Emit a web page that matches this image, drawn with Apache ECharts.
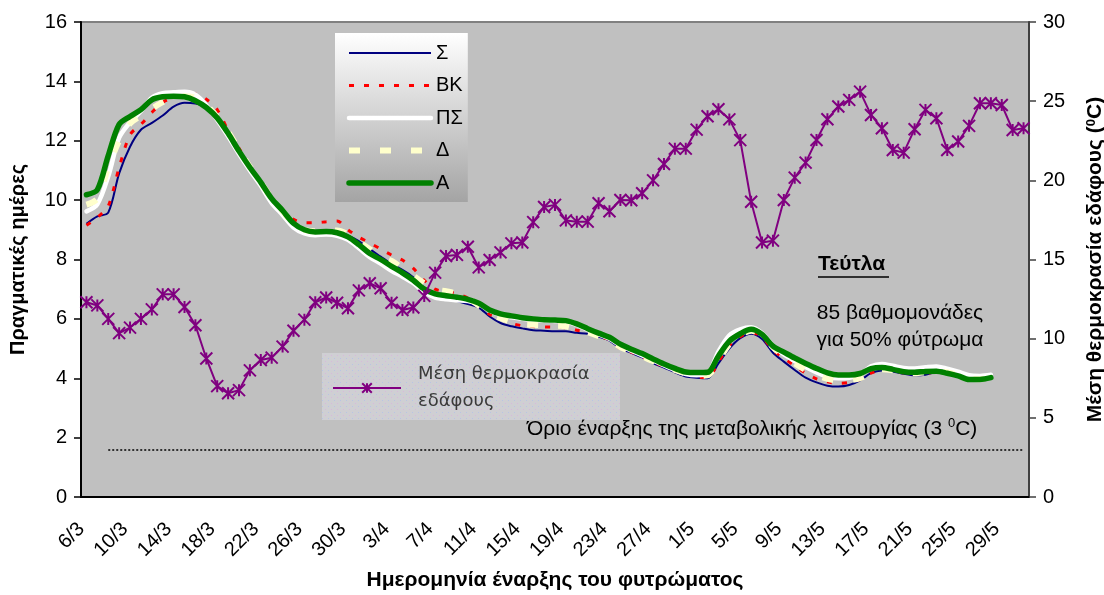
<!DOCTYPE html>
<html>
<head>
<meta charset="utf-8">
<script src="https://cdn.jsdelivr.net/npm/echarts@6/dist/echarts.min.js"></script>
<style>
html, body { margin: 0; padding: 0; background: #ffffff; }
#chart { width: 1104px; height: 595px; }
</style>
</head>
<body>
<div id="chart"></div>
<script>
// Sowing dates (6 March – 31 May)
const dates = [
  '6/3','7/3','8/3','9/3','10/3','11/3','12/3','13/3','14/3','15/3','16/3','17/3','18/3','19/3',
  '20/3','21/3','22/3','23/3','24/3','25/3','26/3','27/3','28/3','29/3','30/3','31/3',
  '1/4','2/4','3/4','4/4','5/4','6/4','7/4','8/4','9/4','10/4','11/4','12/4','13/4','14/4','15/4',
  '16/4','17/4','18/4','19/4','20/4','21/4','22/4','23/4','24/4','25/4','26/4','27/4','28/4','29/4','30/4',
  '1/5','2/5','3/5','4/5','5/5','6/5','7/5','8/5','9/5','10/5','11/5','12/5','13/5','14/5','15/5',
  '16/5','17/5','18/5','19/5','20/5','21/5','22/5','23/5','24/5','25/5','26/5','27/5','28/5','29/5','30/5','31/5'
];

// Actual days to 50% emergence, one array per model
const daysS = [
  9.2, 9.45, 9.58, 10.9, 11.8, 12.37, 12.6, 12.85, 13.15, 13.28,
  13.25, 13.12, 12.75, 12.25, 11.65, 11.1, 10.55, 10.0, 9.58, 9.15,
  8.95, 8.9, 8.92, 8.88, 8.8, 8.62, 8.35, 8.1, 7.85, 7.65,
  7.4, 7.05, 6.85, 6.7, 6.6, 6.5, 6.38, 6.08, 5.86, 5.75,
  5.68, 5.62, 5.6, 5.58, 5.58, 5.53, 5.5, 5.4, 5.27, 5.0,
  4.86, 4.7, 4.5, 4.36, 4.2, 4.06, 4.02, 4.0, 4.5, 5.0,
  5.35, 5.5, 5.32, 4.86, 4.56, 4.28, 4.02, 3.86, 3.75, 3.72,
  3.77, 3.93, 4.17, 4.26, 4.23, 4.15, 4.1, 4.12, 4.2, 4.15,
  4.06, 3.95, 3.95, 4.0
];
const daysBK = [
  9.15, 9.42, 9.8, 11.1, 12.2, 12.55, 12.95, 13.3, 13.45, 13.52,
  13.58, 13.4, 13.05, 12.35, 11.75, 11.15, 10.6, 10.05, 9.65, 9.35,
  9.24, 9.24, 9.27, 9.3, 9.0, 8.75, 8.56, 8.35, 8.15, 7.98,
  7.7, 7.3, 7.0, 6.92, 6.85, 6.7, 6.45, 6.15, 6.0, 5.85,
  5.77, 5.74, 5.73, 5.72, 5.7, 5.62, 5.55, 5.4, 5.3, 5.0,
  4.88, 4.72, 4.55, 4.4, 4.28, 4.15, 4.05, 4.02, 4.55, 5.1,
  5.4, 5.55, 5.38, 4.95, 4.68, 4.42, 4.17, 3.98, 3.88, 3.83,
  3.86, 3.96, 4.17, 4.28, 4.25, 4.18, 4.14, 4.16, 4.22, 4.17,
  4.07, 3.96, 3.96, 4.01
];
const daysPS = [
  9.62, 9.86, 10.8, 12.1, 12.62, 13.0, 13.45, 13.6, 13.63, 13.65,
  13.55, 13.2, 12.7, 12.15, 11.55, 11.0, 10.48, 9.9, 9.5, 9.08,
  8.88, 8.82, 8.84, 8.8, 8.66, 8.38, 8.08, 7.86, 7.62, 7.42,
  7.2, 6.9, 6.72, 6.66, 6.63, 6.6, 6.5, 6.28, 6.12, 6.05,
  6.0, 5.97, 5.95, 5.93, 5.9, 5.8, 5.63, 5.48, 5.33, 5.1,
  4.93, 4.77, 4.6, 4.43, 4.27, 4.14, 4.1, 4.15, 4.9, 5.45,
  5.65, 5.72, 5.52, 5.1, 4.8, 4.58, 4.38, 4.2, 4.06, 4.0,
  4.02, 4.12, 4.4, 4.48, 4.42, 4.35, 4.33, 4.37, 4.4, 4.32,
  4.22, 4.1, 4.08, 4.12
];
const daysD = [
  9.85, 10.05, 11.1, 12.0, 12.58, 12.85, 13.08, 13.3, 13.45, 13.5,
  13.45, 13.2, 12.8, 12.3, 11.7, 11.12, 10.6, 10.05, 9.62, 9.2,
  9.0, 8.95, 8.95, 8.98, 8.85, 8.6, 8.35, 8.1, 7.95, 7.7,
  7.45, 7.2, 7.0, 6.93, 6.85, 6.7, 6.45, 6.2, 6.03, 5.9,
  5.82, 5.8, 5.78, 5.77, 5.75, 5.65, 5.55, 5.42, 5.3, 5.05,
  4.9, 4.74, 4.57, 4.42, 4.28, 4.16, 4.08, 4.1, 4.6, 5.15,
  5.45, 5.6, 5.45, 5.05, 4.75, 4.5, 4.28, 4.1, 3.98, 3.92,
  3.93, 4.0, 4.2, 4.3, 4.27, 4.2, 4.17, 4.2, 4.25, 4.2,
  4.1, 3.98, 3.97, 4.02
];
const daysA = [
  10.18, 10.35, 11.5, 12.55, 12.82, 13.05, 13.38, 13.48, 13.5, 13.48,
  13.35, 13.12, 12.77, 12.25, 11.65, 11.1, 10.6, 10.05, 9.65, 9.22,
  9.0, 8.93, 8.94, 8.9, 8.76, 8.5, 8.2, 8.0, 7.77, 7.55,
  7.3, 7.0, 6.84, 6.78, 6.73, 6.66, 6.53, 6.3, 6.17, 6.1,
  6.04, 6.0, 5.97, 5.96, 5.94, 5.83, 5.67, 5.52, 5.38, 5.15,
  4.98, 4.83, 4.65, 4.48, 4.33, 4.21, 4.19, 4.2, 4.75, 5.25,
  5.5, 5.65, 5.48, 5.08, 4.88, 4.68, 4.5, 4.33, 4.18, 4.11,
  4.11, 4.16, 4.32, 4.36, 4.3, 4.22, 4.2, 4.23, 4.24, 4.17,
  4.08, 3.96, 3.96, 4.02
];

// Mean soil temperature (°C), secondary axis
const soilTemp = [
  12.3, 12.1, 11.25, 10.35, 10.7, 11.25, 11.85, 12.8, 12.8, 12.0,
  10.85, 8.75, 7.0, 6.55, 6.75, 8.0, 8.65, 8.8, 9.5, 10.5,
  11.2, 12.3, 12.6, 12.27, 11.92, 13.05, 13.5, 13.18, 12.27, 11.81,
  11.97, 12.7, 14.17, 15.22, 15.29, 15.81, 14.5, 14.97, 15.45, 16.02,
  16.07, 17.36, 18.32, 18.45, 17.47, 17.39, 17.39, 18.55, 18.05, 18.76,
  18.74, 19.18, 20.0, 21.03, 22.0, 22.0, 23.2, 24.05, 24.49, 23.85,
  22.54, 18.65, 16.07, 16.19, 18.76, 20.17, 21.12, 22.55, 23.86, 24.66,
  25.08, 25.6, 24.13, 23.29, 21.92, 21.75, 23.23, 24.45, 23.92, 21.92,
  22.45, 23.44, 24.87, 24.87, 24.76, 23.18, 23.29
];
const thresholdTemp = 3;

const leftTicks = { min: 0, max: 16, interval: 2 };
const rightTicks = { min: 0, max: 30, interval: 5 };

const FONT = 'Liberation Sans';

// line look of each emergence model (used by the series and the key)
const looks = {
  'Σ':  { color: '#000080', width: 2,   type: 'solid',  cap: 'butt' },
  'ΒΚ': { color: '#ff0000', width: 3,   type: [5, 10],  cap: 'butt' },
  'ΠΣ': { color: '#ffffff', width: 4.5, type: 'solid',  cap: 'round' },
  'Δ':  { color: '#ffffcc', width: 6,   type: [11, 20], cap: 'butt' },
  'Α':  { color: '#008000', width: 5.5, type: 'solid',  cap: 'round' }
};

// dotted texture for the soil-temperature key box
const tex = document.createElement('canvas');
tex.width = 6; tex.height = 6;
const tg = tex.getContext('2d');
tg.fillStyle = '#cfcfd3'; tg.fillRect(0, 0, 6, 6);
tg.fillStyle = '#d8b8dc'; tg.fillRect(1, 1, 1, 1);
tg.fillStyle = '#b8c4e4'; tg.fillRect(4, 4, 1, 1);

const chart = echarts.init(document.getElementById('chart'), null, { renderer: 'canvas' });

function curve(name, data) {
  const lk = looks[name];
  return {
    name: name,
    type: 'line',
    yAxisIndex: 0,
    data: data,
    smooth: 0.3,
    showSymbol: false,
    symbol: 'none',
    lineStyle: { color: lk.color, width: lk.width, type: lk.type, cap: lk.cap },
    itemStyle: { color: lk.color },
    emphasis: { disabled: true },
    animation: false
  };
}

function keyItem(name) {
  const lk = looks[name];
  return {
    name: name,
    itemStyle: { opacity: 0 },
    lineStyle: { color: lk.color, width: lk.width, type: lk.type, cap: lk.cap }
  };
}

const option = {
  backgroundColor: '#ffffff',
  animation: false,
  textStyle: { fontFamily: FONT, color: '#000' },
  grid: {
    left: 81, right: 75, top: 22, bottom: 98,
    show: true,
    backgroundColor: '#c0c0c0',
    borderColor: '#808080',
    borderWidth: 2,
    containLabel: false,
    outerBoundsMode: 'none'
  },
  legend: [
    {
      data: ['Σ', 'ΒΚ', 'ΠΣ', 'Δ', 'Α'].map(keyItem),
      orient: 'vertical',
      left: 335, top: 33,
      itemWidth: 82, itemHeight: 14, itemGap: 12.5,
      padding: [10, 5, 9, 11],
      itemStyle: { opacity: 0 },
      backgroundColor: new echarts.graphic.LinearGradient(0, 0, 0, 1, [
        { offset: 0, color: '#ffffff' },
        { offset: 1, color: '#a4a4a4' }
      ]),
      textStyle: { fontSize: 20, lineHeight: 14, color: '#000', fontFamily: FONT },
      selectedMode: false
    },
    {
      data: ['Μέση θερμοκρασία εδάφους'],
      left: 322, top: 355,
      itemWidth: 68, itemHeight: 12,
      padding: [6, 30, 7, 10],
      formatter: function () { return 'Μέση θερμοκρασία\nεδάφους'; },
      textStyle: { fontSize: 18, lineHeight: 27, color: '#3a3a3a', fontFamily: 'DejaVu Sans', padding: [0, 0, 0, 12] },
      selectedMode: false
    }
  ],
  xAxis: {
    type: 'category',
    data: dates,
    boundaryGap: true,
    name: 'Ημερομηνία έναρξης του φυτρώματος',
    nameLocation: 'middle',
    nameGap: 73,
    nameTextStyle: { fontSize: 21, fontWeight: 'bold', color: '#000' },
    axisLine: { show: true, lineStyle: { color: '#000', width: 2 } },
    axisTick: { show: false },
    axisLabel: { interval: 3, rotate: 45, fontSize: 20, color: '#000', margin: 24, padding: [0, 7, 0, 0] },
    splitLine: { show: false }
  },
  yAxis: [
    {
      type: 'value',
      position: 'left',
      min: leftTicks.min, max: leftTicks.max, interval: leftTicks.interval,
      name: 'Πραγματικές ημέρες',
      nameLocation: 'middle',
      nameGap: 53,
      nameRotate: 90,
      nameTextStyle: { fontSize: 20, fontWeight: 'bold', color: '#000' },
      axisLine: { show: true, lineStyle: { color: '#000', width: 2 } },
      axisTick: { show: true, inside: false, length: 7, lineStyle: { color: '#000', width: 1.5 } },
      axisLabel: { fontSize: 20, color: '#000', margin: 14 },
      splitLine: { show: false }
    },
    {
      type: 'value',
      position: 'right',
      min: rightTicks.min, max: rightTicks.max, interval: rightTicks.interval,
      name: '{t|Μέση θερμοκρασία εδάφους (}{s|0}{t|C)}',
      nameLocation: 'middle',
      nameGap: 56,
      nameRotate: 90,
      nameTextStyle: {
        rich: {
          t: { fontSize: 21, fontWeight: 'bold', color: '#000', fontFamily: FONT },
          s: { fontSize: 13, fontWeight: 'bold', color: '#000', fontFamily: FONT, verticalAlign: 'top' }
        }
      },
      axisLine: { show: true, lineStyle: { color: '#404040', width: 2 } },
      axisTick: { show: true, inside: false, length: 7, lineStyle: { color: '#404040', width: 1.5 } },
      axisLabel: { fontSize: 20, color: '#000', margin: 14 },
      splitLine: { show: false }
    }
  ],
  series: [
    curve('Σ', daysS),
    curve('ΒΚ', daysBK),
    curve('ΠΣ', daysPS),
    curve('Δ', daysD),
    curve('Α', daysA),
    {
      name: 'Μέση θερμοκρασία εδάφους',
      type: 'line',
      yAxisIndex: 1,
      data: soilTemp,
      showSymbol: true,
      showAllSymbol: true,
      symbol: 'path://M0,0L10,10M10,0L0,10M5,0L5,10',
      symbolSize: 12,
      lineStyle: { color: '#800080', width: 2 },
      itemStyle: { color: '#800080', borderColor: '#800080', borderWidth: 2 },
      emphasis: { disabled: true },
      animation: false,
      markLine: {
        silent: true,
        symbol: 'none',
        label: { show: false },
        lineStyle: { color: '#000', type: [2, 2], width: 1.5 },
        data: [[
          { coord: ['8/3', thresholdTemp] },
          { coord: ['31/5', thresholdTemp] }
        ]]
      }
    }
  ],
  graphic: [
    {
      type: 'rect', z: 3, silent: true,
      shape: { x: 322, y: 353, width: 298, height: 67 },
      style: { fill: { image: tex, repeat: 'repeat' } }
    },
    {
      type: 'text', z: 5, x: 818, y: 254,
      style: { text: 'Τεύτλα', font: 'bold 21px "Liberation Sans"', fill: '#000' }
    },
    {
      type: 'line', z: 5,
      shape: { x1: 818, y1: 277, x2: 889, y2: 277 },
      style: { stroke: '#000', lineWidth: 1.5 }
    },
    {
      type: 'text', z: 5, x: 900, y: 300,
      style: {
        text: '85 βαθμομονάδες\nγια 50% φύτρωμα',
        align: 'center',
        font: '21px "Liberation Sans"',
        lineHeight: 27,
        fill: '#000'
      }
    },
    {
      type: 'text', z: 5, x: 527, y: 417,
      style: {
        text: '{a|Όριο έναρξης της μεταβολικής λειτουργίας (3 }{s|0}{a|C)}',
        rich: {
          a: { fontSize: 21, fontFamily: FONT, fill: '#000', lineHeight: 24 },
          s: { fontSize: 13, fontFamily: FONT, fill: '#000', verticalAlign: 'top', lineHeight: 24 }
        }
      }
    }
  ]
};

chart.setOption(option);
</script>
</body>
</html>
